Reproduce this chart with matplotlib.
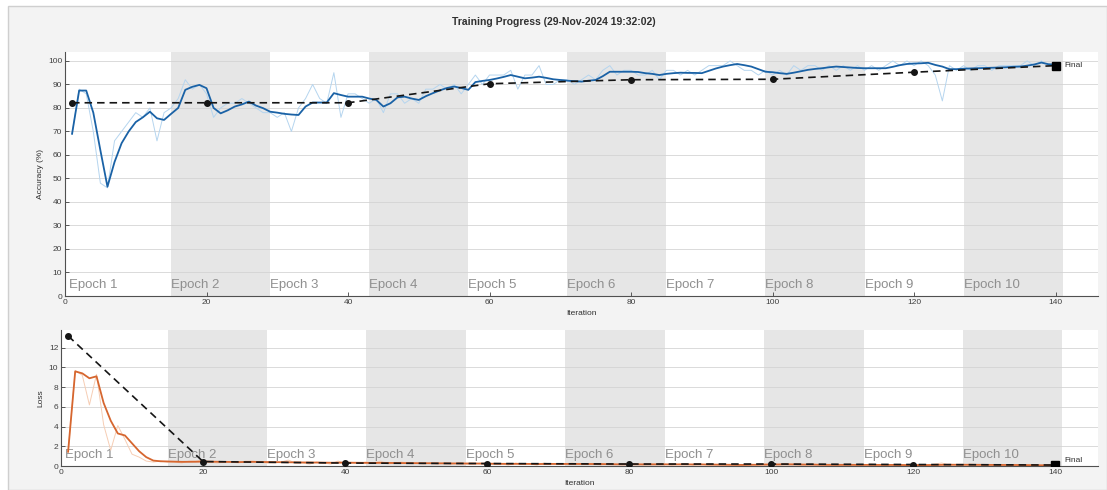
"""
Training progress plot: accuracy and loss per iteration with validation checkpoints
"""

import matplotlib.pyplot as plt
from matplotlib.patches import Rectangle
import numpy as np

plt.rcParams['font.family'] = ['Liberation Sans','DejaVu Sans']

###############################################################################
### Data
iters_per_epoch = 14
num_epochs = 10
iterations = np.arange(1, iters_per_epoch*num_epochs + 1)

### Smoothed training accuracy (%), one row per epoch
acc_smooth = [69, 87.4, 87.4, 78, 62, 46.5, 57, 65, 70, 74, 76, 78.4, 75.6, 74.9,
              77.5, 80, 87.7, 89, 89.8, 88.4, 80, 77.7, 79, 80.6, 81.5, 82.7, 81, 79.9,
              78.4, 78, 77.5, 77.2, 77, 80.6, 82.3, 82.3, 82.3, 86.3, 85.5, 84.8, 84.8, 84.8,
              84, 83.4, 80.6, 82, 84.5, 84.8, 84, 83.4, 85, 86.3, 87.5, 88.5, 89.1, 88.5,
              87.7, 91, 91.5, 91.9, 92.5, 93.2, 94, 93.3, 92.6, 92.9, 93.3, 92.8, 92.2, 91.9,
              91.6, 91.4, 91.2, 91.6, 91.9, 93.5, 95.4, 95.4, 95.4, 95.4, 95.3, 94.8, 94.5, 94,
              94.5, 94.8, 95, 94.9, 94.9, 94.8, 95.8, 96.8, 97.6, 98.2, 98.7, 98.2, 97.6, 96.5,
              95.4, 95.2, 94.8, 94.5, 95, 95.6, 96.2, 96.6, 96.9, 97.3, 97.6, 97.4, 97.2, 97,
              96.9, 96.9, 96.9, 96.9, 97.5, 98.2, 98.7, 98.9, 99, 99.2, 98.3, 97.6, 96.5, 96.5,
              96.7, 96.8, 96.9, 97, 97.1, 97.2, 97.3, 97.5, 97.6, 98, 98.5, 99.3, 98.6, 98.4]

### Raw mini-batch accuracy (%)
acc_raw = [69, 88, 86, 70, 48, 46, 66, 70, 74, 78, 76, 80, 66, 78,
           80, 84, 92, 88, 90, 86, 76, 80, 82, 82, 84, 82, 80, 78,
           78, 76, 78, 70, 80, 84, 90, 84, 82, 95, 76, 86, 86, 84,
           82, 84, 78, 86, 86, 82, 84, 82, 88, 88, 90, 88, 90, 86,
           90, 94, 90, 94, 94, 94, 96, 88, 94, 94, 98, 90, 90, 92,
           92, 90, 92, 94, 92, 96, 98, 94, 96, 96, 94, 94, 96, 92,
           96, 96, 94, 96, 94, 96, 98, 98, 98, 100, 98, 96, 96, 94,
           96, 94, 96, 94, 98, 96, 98, 98, 96, 98, 96, 98, 96, 98,
           96, 98, 96, 98, 100, 98, 100, 98, 100, 98, 94, 83, 98, 96,
           98, 96, 98, 98, 96, 98, 98, 98, 98, 100, 98, 100, 98, 98]

### Smoothed training loss
loss_smooth = [1.45, 9.6, 9.4, 8.9, 9.1, 6.4, 4.6, 3.3, 3.1, 2.3, 1.5, 0.9, 0.55, 0.48,
               0.46, 0.44, 0.42, 0.42, 0.43, 0.45, 0.44, 0.42, 0.41, 0.40, 0.40, 0.41, 0.42, 0.41,
               0.40, 0.39, 0.38, 0.38, 0.37, 0.36, 0.36, 0.35, 0.34, 0.33, 0.34, 0.34, 0.33, 0.32,
               0.32, 0.31, 0.32, 0.31, 0.30, 0.30, 0.29, 0.29, 0.28, 0.28, 0.27, 0.27, 0.26, 0.26,
               0.26, 0.25, 0.24, 0.24, 0.23, 0.22, 0.22, 0.22, 0.21, 0.21, 0.20, 0.21, 0.21, 0.21,
               0.21, 0.21, 0.22, 0.21, 0.21, 0.20, 0.18, 0.17, 0.17, 0.16, 0.16, 0.17, 0.17, 0.18,
               0.17, 0.17, 0.16, 0.16, 0.16, 0.16, 0.15, 0.14, 0.12, 0.11, 0.10, 0.11, 0.12, 0.13,
               0.15, 0.16, 0.16, 0.17, 0.16, 0.15, 0.14, 0.13, 0.13, 0.12, 0.12, 0.12, 0.13, 0.13,
               0.13, 0.13, 0.13, 0.12, 0.11, 0.10, 0.09, 0.09, 0.09, 0.08, 0.10, 0.12, 0.13, 0.13,
               0.12, 0.12, 0.12, 0.11, 0.11, 0.11, 0.10, 0.10, 0.10, 0.09, 0.08, 0.07, 0.08, 0.08]

### Raw mini-batch loss
loss_raw = [1.4, 9.7, 9.2, 6.2, 9.3, 4.2, 1.6, 4.1, 2.7, 1.2, 0.9, 0.5, 0.4, 0.5,
            0.4, 0.4, 0.3, 0.5, 0.5, 0.6, 0.4, 0.3, 0.4, 0.4, 0.3, 0.5, 0.5, 0.4,
            0.3, 0.3, 0.4, 0.6, 0.3, 0.3, 0.2, 0.4, 0.3, 0.2, 0.5, 0.3, 0.3, 0.3,
            0.4, 0.3, 0.5, 0.2, 0.3, 0.4, 0.3, 0.3, 0.2, 0.3, 0.2, 0.3, 0.2, 0.3,
            0.2, 0.2, 0.3, 0.2, 0.2, 0.2, 0.1, 0.3, 0.2, 0.2, 0.1, 0.3, 0.2, 0.2,
            0.2, 0.3, 0.2, 0.2, 0.2, 0.1, 0.2, 0.2, 0.1, 0.2, 0.2, 0.1, 0.2, 0.2,
            0.2, 0.1, 0.2, 0.2, 0.1, 0.2, 0.1, 0.1, 0.1, 0.1, 0.1, 0.1, 0.2, 0.1,
            0.2, 0.2, 0.1, 0.2, 0.2, 0.1, 0.1, 0.2, 0.1, 0.1, 0.1, 0.1, 0.2, 0.1,
            0.1, 0.2, 0.1, 0.1, 0.1, 0.1, 0.1, 0.1, 0.1, 0.1, 0.2, 0.3, 0.1, 0.1,
            0.1, 0.2, 0.1, 0.1, 0.1, 0.1, 0.1, 0.1, 0.1, 0.1, 0.1, 0.1, 0.1, 0.1]

### Validation checkpoints
val_iters = [1, 20, 40, 60, 80, 100, 120, 140]
val_acc = [82.2, 82.2, 82.2, 90.3, 92.0, 92.2, 95.2, 98.0]
val_loss = [13.2, 0.45, 0.3, 0.25, 0.2, 0.2, 0.15, 0.1]
final_acc = 98.0
final_loss = 0.1

epoch_labels = ['Epoch %d' % (k+1) for k in range(num_epochs)]
title = 'Training Progress (29-Nov-2024 19:32:02)'

###############################################################################
### Figure
fig = plt.figure(figsize=(11.07,4.9),dpi=100,facecolor='white')
fig.patches.append(Rectangle((8/1107,0),1-8/1107,1-6/490,transform=fig.transFigure,
                             facecolor='#f3f3f3',edgecolor='#cfcfcf',linewidth=1,zorder=-10))

ax1 = fig.add_axes([65/1107,(490-296)/490,1033/1107,244/490])
ax2 = fig.add_axes([61/1107,(490-466)/490,1037/1107,136/490])

def style_axis(ax,ymax,yticks,ylabel,txt_y):
    ax.set_facecolor('white')
    for k in range(num_epochs):
        start = k*iters_per_epoch + 1
        if k % 2 == 1:
            ax.axvspan(start,start+iters_per_epoch,color='#e6e6e6',lw=0,zorder=0)
        ax.text(start - 0.5 if k == 0 else start,txt_y,epoch_labels[k],
                transform=ax.get_xaxis_transform(),
                fontsize=9.5,color='#8f8f8f',ha='left',va='center',zorder=1)
    ax.set_xlim(0,146)
    ax.set_ylim(0,ymax)
    ax.set_yticks(yticks)
    ax.set_xticks(np.arange(0,141,20))
    ax.yaxis.grid(True,color='#d4d4d4',linewidth=0.6)
    ax.set_axisbelow(True)
    for s in ['top','right']:
        ax.spines[s].set_visible(False)
    for s in ['left','bottom']:
        ax.spines[s].set_color('#505050')
        ax.spines[s].set_linewidth(0.8)
    ax.tick_params(direction='in',length=3,width=0.6,labelsize=6,colors='#404040',pad=2)
    ax.set_xlabel('Iteration',fontsize=6,color='#303030',labelpad=3)
    ax.set_ylabel(ylabel,fontsize=6,color='#303030',labelpad=3)

style_axis(ax1,103.8,np.arange(0,101,10),'Accuracy (%)',0.045)
style_axis(ax2,13.8,np.arange(0,13,2),'Loss',0.08)

### Accuracy
ax1.plot(iterations,acc_raw,color='#b5d5ef',lw=0.7,zorder=2)
ax1.plot(iterations,acc_smooth,color='#1a62a6',lw=1.3,zorder=3)
ax1.plot(val_iters,val_acc,color='#151515',lw=1.2,ls=(0,(4.5,3)),marker='o',
         markersize=4,zorder=4)
ax1.plot(val_iters[-1],final_acc,marker='s',color='k',markersize=5.5,zorder=5)
ax1.text(val_iters[-1]+1.3,final_acc,'Final',fontsize=6,color='#303030',va='center')

### Loss
ax2.plot(iterations,loss_raw,color='#f6cdb4',lw=0.7,zorder=2)
ax2.plot(iterations,loss_smooth,color='#d6662f',lw=1.3,zorder=3)
ax2.plot(val_iters,val_loss,color='#151515',lw=1.2,ls=(0,(4.5,3)),marker='o',
         markersize=4,zorder=4)
ax2.plot(val_iters[-1],final_loss,marker='s',color='k',markersize=5.5,zorder=5)
ax2.text(val_iters[-1]+1.3,final_loss+0.5,'Final',fontsize=6,color='#303030',va='center')

fig.text(0.5,1-22/490,title,fontsize=7.5,fontweight='bold',color='#303030',
         ha='center',va='center')

plt.savefig('out.png',dpi=100,facecolor=fig.get_facecolor())
